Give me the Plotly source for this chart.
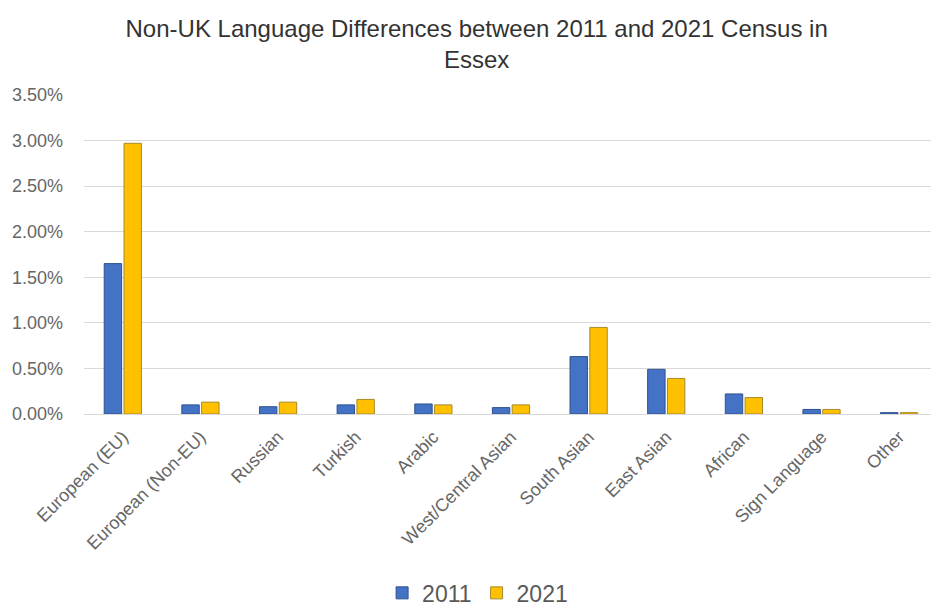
import plotly.graph_objects as go

categories = ["European (EU)", "European (Non-EU)", "Russian", "Turkish", "Arabic",
              "West/Central Asian", "South Asian", "East Asian", "African",
              "Sign Language", "Other"]
values_2011 = [0.0165, 0.0010, 0.0008, 0.0010, 0.0011, 0.0007, 0.0063, 0.0049, 0.0022, 0.0005, 0.00015]
values_2021 = [0.0297, 0.0013, 0.0013, 0.0016, 0.0010, 0.0010, 0.0095, 0.0039, 0.0018, 0.0005, 0.00015]
tick_vals = [0, 0.005, 0.01, 0.015, 0.02, 0.025, 0.03, 0.035]

fig = go.Figure()
fig.add_trace(go.Bar(x=categories, y=values_2011, name="2011",
                     marker=dict(color="#4472C4", line=dict(color="#2F528F", width=1))))
fig.add_trace(go.Bar(x=categories, y=values_2021, name="2021",
                     marker=dict(color="#FFC000", line=dict(color="#A68B2C", width=1))))

fig.update_layout(
    width=931, height=610,
    paper_bgcolor="white", plot_bgcolor="white",
    font=dict(family="Liberation Sans, Arial, sans-serif", color="#595959"),
    title=dict(text="Non-UK Language Differences between 2011 and 2021 Census in<br>Essex",
               x=0.512, xanchor="center", y=0.94, yanchor="top",
               font=dict(size=24, color="#333333")),
    margin=dict(l=84, r=0, t=95, b=196),
    barmode="group", bargap=0.49, bargroupgap=0.12,
    legend=dict(orientation="h", xref="container", x=0.513, xanchor="center",
                yref="container", y=0.028, yanchor="middle",
                font=dict(size=23, color="#595959"),
                itemwidth=30, tracegroupgap=0),
    showlegend=True,
)
fig.update_yaxes(range=[0, 0.035], tickvals=tick_vals, tickformat=".2%",
                 showgrid=True, gridcolor="#D9D9D9", gridwidth=1,
                 zeroline=True, zerolinecolor="#D9D9D9", zerolinewidth=1,
                 tickfont=dict(size=18, color="#666666"), ticks="", ticklen=0,
                 ticklabelstandoff=20, automargin=False)
fig.update_xaxes(tickangle=-45, tickfont=dict(size=18, color="#666666"),
                 range=[-0.5, 10.41], ticklabelstandoff=8,
                 showline=False, ticks="", automargin=False)

fig.write_html("out.html", config={"displayModeBar": False},
               post_script="document.body.style.margin='0';document.body.style.padding='0';")
